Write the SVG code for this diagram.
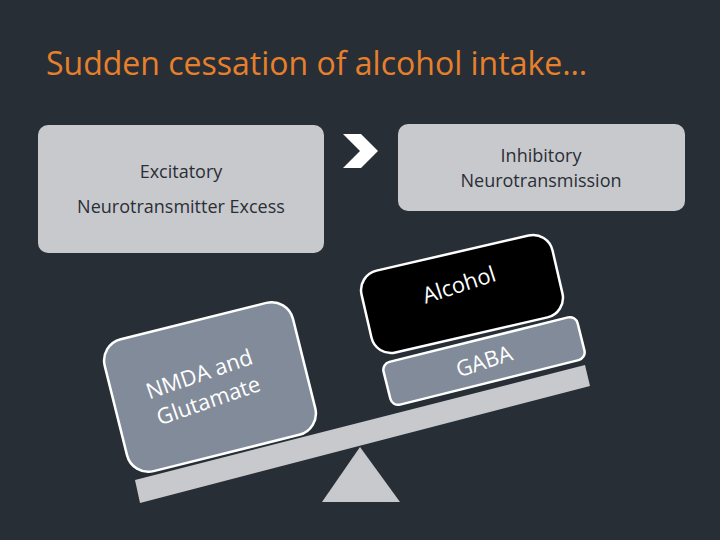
<svg xmlns="http://www.w3.org/2000/svg" width="720" height="540" viewBox="0 0 720 540">
<style>
text{font-family:"Open Sans","Noto Sans",sans-serif}
.top{fill:#c8c9cd}
.tt{fill:#2a2f36;font-size:18px;text-anchor:middle}
.wt{fill:#fff;font-size:22px;text-anchor:middle}
.blk{stroke:#fff;stroke-width:2.5}
</style>
<rect width="720" height="540" fill="#272e36"/>
<text x="46" y="75" font-size="32" fill="#e8802b" style="font-family:'Open Sans',sans-serif">Sudden cessation of alcohol intake…</text>
<g id="excit"><rect class="top" x="38" y="125" width="286" height="128" rx="10"/>
<text class="tt" x="181" y="178">Excitatory</text><text class="tt" x="181" y="213">Neurotransmitter Excess</text></g>
<g id="chev"><polygon points="343,134 361,134 378,151 361,168 343,168 360,151" fill="#fff"/></g>
<g id="inhib"><rect class="top" x="398" y="124" width="287" height="87" rx="10"/>
<text class="tt" x="541" y="162">Inhibitory</text><text class="tt" x="541" y="187">Neurotransmission</text></g>
<g id="beam"><polygon points="135,480 585,365 590,386 140,503" fill="#c8c9cd"/>
<polygon points="360,447 322,502 400,502" fill="#c8c9cd"/></g>
<g id="nmda" transform="translate(210,387) rotate(-14)">
<rect class="blk" x="-97" y="-68" width="194" height="136" rx="22" fill="#828b99"/>
<text class="wt" transform="rotate(-5)" x="-6" y="-8">NMDA and</text><text class="wt" transform="rotate(-5)" x="-6" y="20">Glutamate</text></g>
<g id="gaba" transform="translate(484,361) rotate(-14)">
<rect class="blk" x="-100" y="-22" width="200" height="44" rx="8" fill="#828b99"/>
<text class="wt" transform="rotate(-4)" x="0" y="8">GABA</text></g>
<g id="alcohol" transform="translate(462,294) rotate(-13)">
<rect class="blk" x="-98" y="-42" width="196" height="84" rx="20" fill="#000"/>
<text class="wt" transform="rotate(-5)" x="0" y="-2">Alcohol</text></g>
</svg>
